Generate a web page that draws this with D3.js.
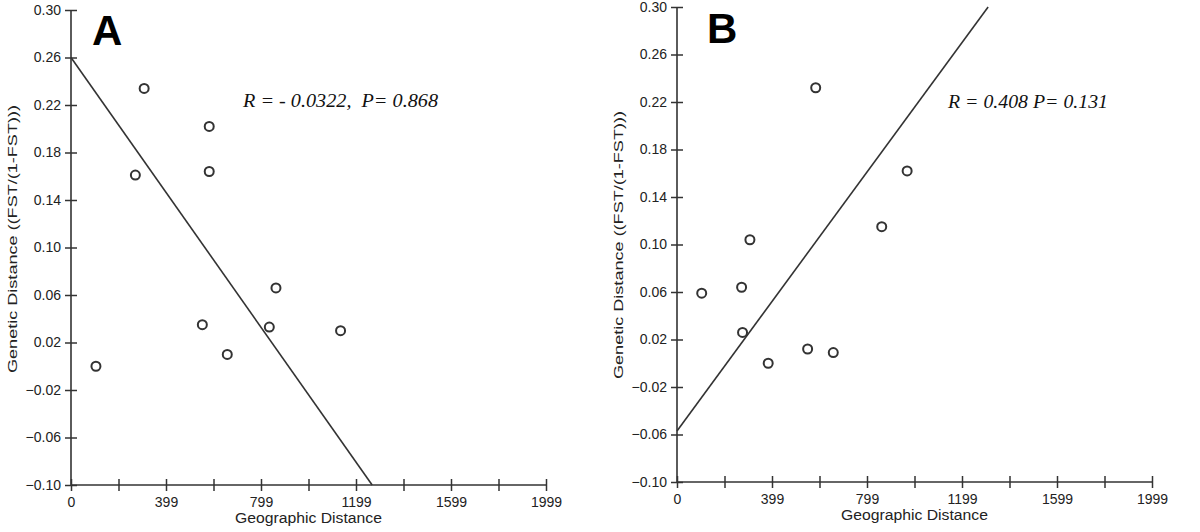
<!DOCTYPE html>
<html>
<head>
<meta charset="utf-8">
<script src="https://cdn.jsdelivr.net/npm/d3@7"></script>
<style>
  html, body { margin: 0; padding: 0; background: #fff; }
  svg { display: block; }
</style>
</head>
<body>
<svg id="chart" width="1200" height="532"></svg>
<script>
// ---- Data ----
const panelLabels = ["A", "B"];
const statTexts = ["R = - 0.0322,  P= 0.868", "R = 0.408 P= 0.131"];

// Panel A: geographic distance vs genetic distance
const geoA = [105, 271, 308, 553, 582, 582, 658, 835, 863, 1135];
const genA = [0.000, 0.161, 0.234, 0.035, 0.202, 0.164, 0.010, 0.033, 0.066, 0.030];
const lineA = [[0, 0.26], [1268, -0.10]];

// Panel B
const geoB = [104, 272, 276, 307, 384, 550, 584, 658, 862, 969];
const genB = [0.059, 0.064, 0.026, 0.104, 0.000, 0.012, 0.232, 0.009, 0.115, 0.162];
const lineB = [[0, -0.057], [1310, 0.30]];

const xTickValues = [0, 200, 400, 600, 800, 1000, 1200, 1400, 1600, 1800, 2000];
const xTickLabels = ["0", "", "399", "", "799", "", "1199", "", "1599", "", "1999"];
const yTickValues = [0.30, 0.26, 0.22, 0.18, 0.14, 0.10, 0.06, 0.02, -0.02, -0.06, -0.10];
const yTickLabels = ["0.30", "0.26", "0.22", "0.18", "0.14", "0.10", "0.06", "0.02", "\u22120.02", "\u22120.06", "\u22120.10"];

const xTitle = "Geographic Distance";
const yTitle = "Genetic Distance ((FST/(1-FST)))";

// ---- Layout ----
const panels = [
  { label: panelLabels[0], stat: statTexts[0], xs: geoA, ys: genA, line: lineA,
    x0: 71, x1: 546, yTop: 10, yBot: 485, labelX: 92, labelY: 45, statX: 243, statY: 107, statW: 195, yTitleX: 12, yTitleY: 239 },
  { label: panelLabels[1], stat: statTexts[1], xs: geoB, ys: genB, line: lineB,
    x0: 677, x1: 1152, yTop: 7, yBot: 482, labelX: 707, labelY: 43, statX: 948, statY: 108, statW: 160, yTitleX: 618, yTitleY: 245 }
];

const svg = d3.select("#chart");
const ink = "#333";

panels.forEach(p => {
  const x = d3.scaleLinear().domain([0, 2000]).range([p.x0, p.x1]);
  const y = d3.scaleLinear().domain([-0.10, 0.30]).range([p.yBot, p.yTop]);
  const g = svg.append("g");

  // y axis
  const yAxis = d3.axisLeft(y).tickValues(yTickValues)
    .tickFormat((d, i) => yTickLabels[i]).tickSize(6).tickPadding(4);
  const ya = g.append("g").attr("transform", `translate(${p.x0},0)`).call(yAxis);
  ya.select(".domain").attr("stroke", ink).attr("stroke-width", 1.6).attr("d", `M0,${p.yTop}V${p.yBot}`);
  ya.selectAll(".tick line").attr("x1", 6).attr("stroke", ink).attr("stroke-width", 1.5);
  ya.selectAll(".tick text").attr("fill", "#222").style("font-family", "Liberation Sans, Arial, sans-serif").style("font-size", "14px");

  // x axis
  const xAxis = d3.axisBottom(x).tickValues(xTickValues)
    .tickFormat((d, i) => xTickLabels[i]).tickSize(6).tickPadding(6);
  const xa = g.append("g").attr("transform", `translate(0,${p.yBot})`).call(xAxis);
  xa.select(".domain").attr("stroke", ink).attr("stroke-width", 1.6).attr("d", `M${p.x0},0H${p.x1}`);
  xa.selectAll(".tick line").attr("y1", -6).attr("stroke", ink).attr("stroke-width", 1.5);
  xa.selectAll(".tick text").attr("fill", "#222").style("font-family", "Liberation Sans, Arial, sans-serif").style("font-size", "14px");

  // axis titles
  g.append("text").attr("x", (p.x0 + p.x1) / 2).attr("y", p.yBot + 38)
    .attr("text-anchor", "middle").attr("fill", "#222")
    .style("font-family", "Liberation Sans, Arial, sans-serif").style("font-size", "14px")
    .attr("textLength", 147).attr("lengthAdjust", "spacingAndGlyphs")
    .text(xTitle);
  g.append("text").attr("transform", `translate(${p.yTitleX},${p.yTitleY}) rotate(-90)`)
    .attr("text-anchor", "middle").attr("dy", "0.35em").attr("fill", "#222")
    .style("font-family", "Liberation Sans, Arial, sans-serif").style("font-size", "13px")
    .attr("textLength", 268).attr("lengthAdjust", "spacingAndGlyphs")
    .text(yTitle);

  // regression line
  g.append("line")
    .attr("x1", x(p.line[0][0])).attr("y1", y(p.line[0][1]))
    .attr("x2", x(p.line[1][0])).attr("y2", y(p.line[1][1]))
    .attr("stroke", ink).attr("stroke-width", 1.6);

  // points
  g.selectAll("circle.pt").data(p.xs.map((v, i) => [v, p.ys[i]])).enter()
    .append("circle").attr("class", "pt")
    .attr("cx", d => x(d[0])).attr("cy", d => y(d[1])).attr("r", 4.5)
    .attr("fill", "#fff").attr("stroke", ink).attr("stroke-width", 2);

  // panel label
  g.append("text").attr("x", p.labelX).attr("y", p.labelY)
    .attr("fill", "#000").style("font-family", "Liberation Sans, Arial, sans-serif")
    .style("font-size", "42px").style("font-weight", "bold").text(p.label);

  // stats text
  g.append("text").attr("x", p.statX).attr("y", p.statY)
    .attr("fill", "#111").style("font-family", "Liberation Serif, 'DejaVu Serif', serif")
    .style("font-size", "19px").style("font-style", "italic")
    .attr("textLength", p.statW).attr("lengthAdjust", "spacingAndGlyphs")
    .attr("xml:space", "preserve")
    .text(p.stat);
});
</script>
</body>
</html>
